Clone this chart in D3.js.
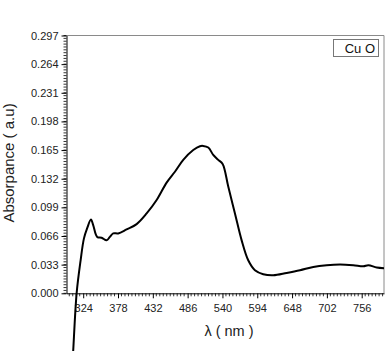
<!DOCTYPE html>
<html><head><meta charset="utf-8">
<script src="https://cdn.jsdelivr.net/npm/d3@7"></script>
<style>body{margin:0;background:#fff}svg{display:block}text{font-family:"Liberation Sans",Arial,sans-serif}</style>
</head><body><svg id="c" width="389" height="351"></svg>
<script>
const wavelength = [307.7,308.5,313.8,320,325.1,330.2,336,339.5,345.7,352.6,360.3,365.4,370.6,378.3,391.3,406.9,422.4,437.9,453.4,466.3,479.2,494.7,505.1,510,518,525.7,533.5,540.3,549,559.4,569.8,580,590.4,603.3,618.8,639.6,660.3,680.9,701.7,722.4,743,758.5,766.3,779.3,790.6];
const absorbance = [-0.075,-0.066,0.0,0.038,0.063,0.075,0.085,0.0786,0.065,0.064,0.061,0.065,0.069,0.069,0.0736,0.0797,0.092,0.1075,0.1275,0.140,0.1537,0.165,0.1695,0.1698,0.168,0.1595,0.1537,0.149,0.123,0.092,0.061,0.038,0.0266,0.022,0.0208,0.0235,0.0266,0.0304,0.0324,0.0332,0.0324,0.0312,0.0324,0.0297,0.029];
const xTicks = [324,378,432,486,540,594,648,702,756];
const yTicks = [0.000,0.033,0.066,0.099,0.132,0.165,0.198,0.231,0.264,0.297];
const legendLabel = "Cu O";
const xTitle = "λ ( nm )";
const yTitle = "Absorpance ( a.u)";

const svg = d3.select("#c");
const L = 66.5, R = 384, T = 35.5, B = 293.3;
const x = d3.scaleLinear().domain([298.1, 790.6]).range([L, R]);
const y = d3.scaleLinear().domain([0, 0.297]).range([B, T]);

const xMinor = d3.range(0, 200).map(i => 324 - 54*1 + i*5.4).filter(v => v >= 298.1 && v <= 790.6 && xTicks.indexOf(+v.toFixed(1)) < 0);
const yMinor = d3.range(0, 91).map(i => i*0.0033);

const g = svg.append("g");
g.append("path").attr("d", `M${L},${T}H${R}V${B}`).attr("fill","none").attr("stroke","#8a8a8a").attr("stroke-width",1);

const xa = g.append("g").attr("transform",`translate(0,${B})`)
  .call(d3.axisBottom(x).tickValues(xTicks).tickFormat(d3.format("d")).tickSize(5).tickSizeOuter(0));
xa.select(".domain").attr("stroke","#000");
xa.selectAll("text").attr("font-size",11).attr("fill","#222").attr("dy","0.95em");
g.append("g").attr("transform",`translate(0,${B})`).selectAll("line").data(xMinor).join("line")
  .attr("x1",d=>x(d)).attr("x2",d=>x(d)).attr("y1",0).attr("y2",3).attr("stroke","#000").attr("stroke-width",0.8);

const ya = g.append("g").attr("transform",`translate(${L},0)`)
  .call(d3.axisLeft(y).tickValues(yTicks).tickFormat(d3.format(".3f")).tickSize(5).tickSizeOuter(0));
ya.select(".domain").attr("stroke","#000");
ya.selectAll("text").attr("font-size",11).attr("fill","#222");
g.append("g").attr("transform",`translate(${L},0)`).selectAll("line").data(yMinor).join("line")
  .attr("x1",-3).attr("x2",0).attr("y1",d=>y(d)).attr("y2",d=>y(d)).attr("stroke","#000").attr("stroke-width",0.8);

const data = wavelength.map((w,i)=>[w,absorbance[i]]);
g.append("path").datum(data)
  .attr("d", d3.line().x(d=>x(d[0])).y(d=>y(d[1])).curve(d3.curveCatmullRom.alpha(0.5)))
  .attr("fill","none").attr("stroke","#000").attr("stroke-width",2);

g.append("rect").attr("x",333.5).attr("y",39.5).attr("width",45).attr("height",17)
  .attr("fill","#fff").attr("stroke","#777").attr("stroke-width",1);
g.append("text").attr("x",375).attr("y",53).attr("text-anchor","end").attr("font-size",13).attr("fill","#111").text(legendLabel);

g.append("text").attr("x",229).attr("y",336).attr("text-anchor","middle").attr("font-size",14.5).attr("fill","#222").text(xTitle);
g.append("text").attr("transform","translate(13.5,163) rotate(-90)").attr("text-anchor","middle").attr("font-size",15).attr("fill","#222").text(yTitle);
</script></body></html>
